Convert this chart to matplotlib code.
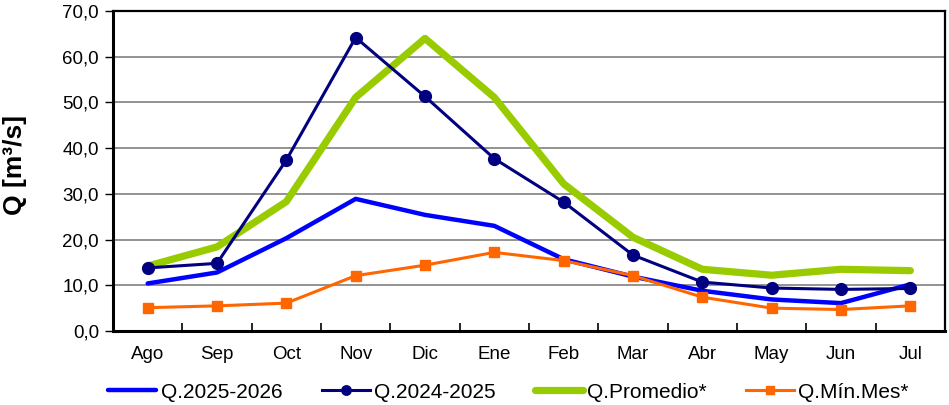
import matplotlib
matplotlib.use("Agg")
import matplotlib.pyplot as plt
from matplotlib.ticker import FuncFormatter, MultipleLocator
import numpy as np

plt.rcParams['font.family'] = ['Liberation Sans', 'DejaVu Sans']

months = ["Ago", "Sep", "Oct", "Nov", "Dic", "Ene", "Feb", "Mar", "Abr", "May", "Jun", "Jul"]
q_2025_2026 = [10.4, 12.8, 20.3, 28.9, 25.4, 23.0, 15.7, 11.9, 8.8, 6.9, 6.1, 10.2]
q_2024_2025 = [13.8, 14.8, 37.4, 64.2, 51.3, 37.7, 28.2, 16.6, 10.7, 9.4, 9.1, 9.3]
q_promedio = [14.2, 18.4, 28.3, 51.1, 64.0, 51.1, 32.2, 20.5, 13.5, 12.2, 13.5, 13.2]
q_min_mes = [5.1, 5.5, 6.1, 12.1, 14.4, 17.2, 15.4, 12.1, 7.4, 5.0, 4.7, 5.5]

fig = plt.figure(figsize=(9.49, 4.05), dpi=100)
ax = fig.add_axes([113/949, 74/405, 832/949, 320/405])

x = np.arange(len(months))
ax.plot(x, q_2025_2026, color="#0000FF", lw=3.2, solid_capstyle='round', label="Q.2025-2026", zorder=3)
ax.plot(x, q_2024_2025, color="#000080", lw=2.2, marker='o', ms=8.5, label="Q.2024-2025", zorder=4)
ax.plot(x, q_promedio, color="#99CC00", lw=5.2, solid_capstyle='round', label="Q.Promedio*", zorder=2)
ax.plot(x, q_min_mes, color="#FF6600", lw=2.2, marker='s', ms=7.5, label="Q.Mín.Mes*", zorder=5)

ax.set_xlim(-0.5, len(months) - 0.5)
ax.set_ylim(0, 70)
ax.yaxis.set_major_locator(MultipleLocator(10))
ax.yaxis.set_major_formatter(FuncFormatter(lambda v, p: f"{v:.1f}".replace(".", ",")))
ax.set_xticks(x)
ax.set_xticklabels(months)
ax.set_xticks(np.arange(-0.5, len(months), 1), minor=True)
ax.tick_params(axis='x', which='major', length=0, pad=11, labelsize=13.5)
ax.tick_params(axis='x', which='minor', length=6, width=1.2, direction='in', color='black')
ax.tick_params(axis='y', which='major', length=6, width=1, direction='out', labelsize=13.5, pad=4)
ax.grid(axis='y', color='#808080', lw=1.2, zorder=0)
ax.set_axisbelow(True)
for s in ['left', 'bottom']:
    ax.spines[s].set_linewidth(2.2)
for s in ['top', 'right']:
    ax.spines[s].set_linewidth(1.6)
for s in ax.spines.values():
    s.set_color('black')

ax.set_ylabel("Q [m³/s]", fontsize=19, fontweight='bold')
ax.yaxis.set_label_coords(-0.103, 0.52)

leg = fig.legend(loc='center', bbox_to_anchor=(0.536, 13/405), ncol=4, frameon=False,
                 fontsize=15, handlelength=2.3, handletextpad=0.2, columnspacing=1.9,
                 markerscale=0.8)

fig.savefig("out.png", dpi=100)
